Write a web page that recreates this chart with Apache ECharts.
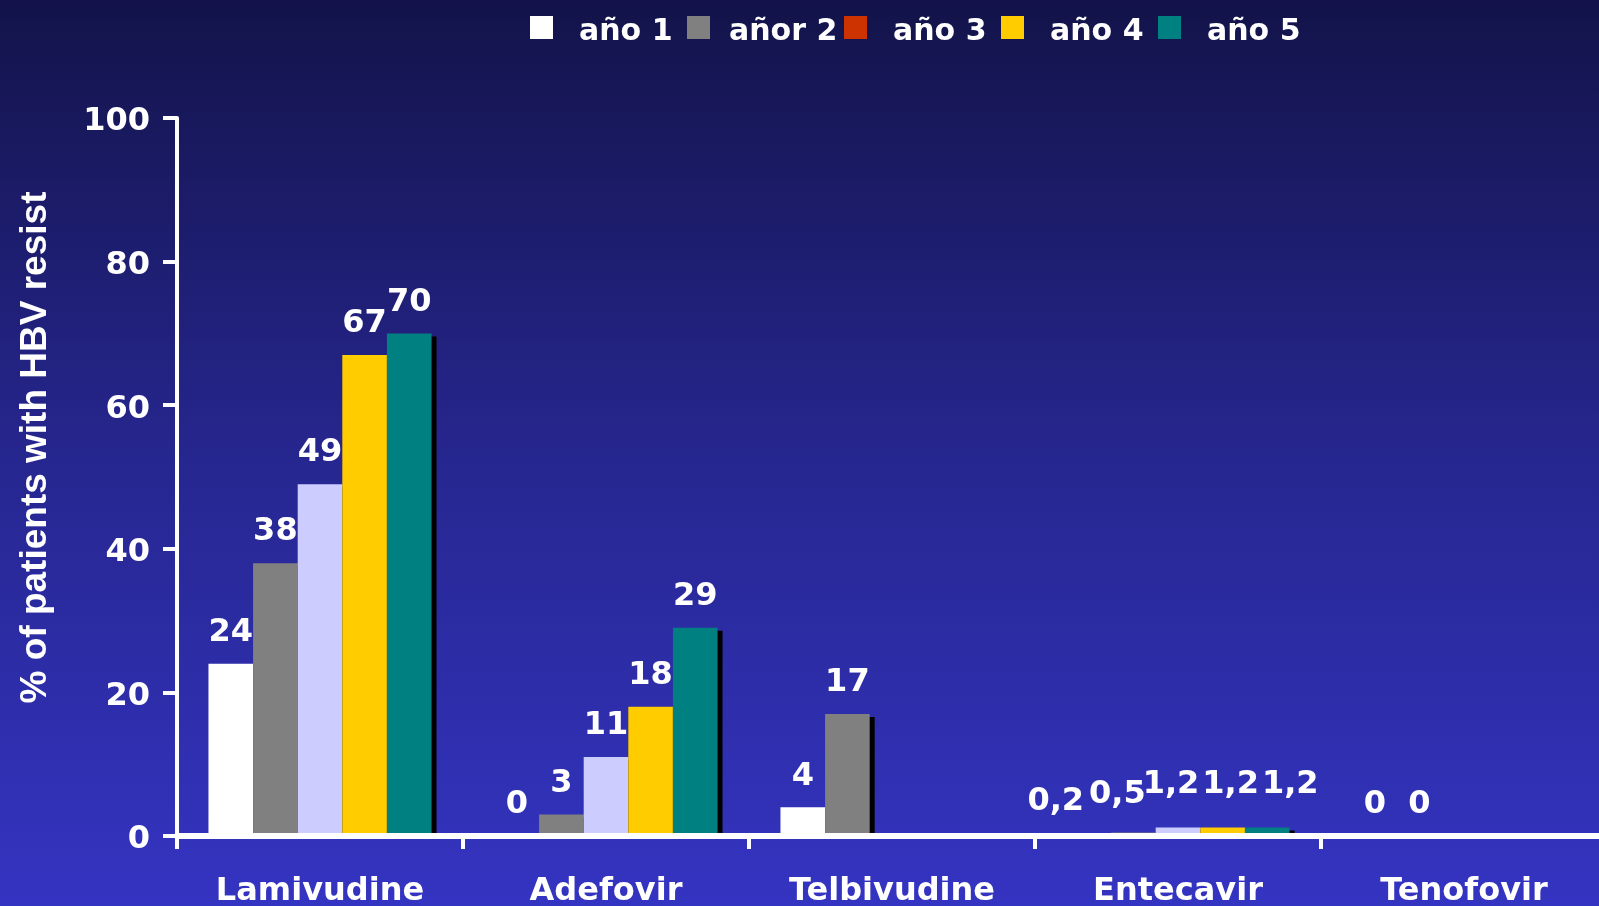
<!DOCTYPE html>
<html>
<head>
<meta charset="utf-8">
<title>HBV resistance by year</title>
<script src="https://cdn.jsdelivr.net/npm/echarts@6/dist/echarts.min.js"></script>
<style>
  html, body { margin: 0; padding: 0; background: #1a1a5c; }
  #chart { width: 1599px; height: 906px; }
</style>
</head>
<body>
<div id="chart"></div>
<script>
// Drugs on the category axis
const categories = ['Lamivudine', 'Adefovir', 'Telbivudine', 'Entecavir', 'Tenofovir'];

// Share of patients with resistance (%), one array per treatment year
const year1 = [24, 0, 4, 0.2, 0];
const year2 = [38, 3, 17, 0.5, 0];
const year3 = [49, 11, null, 1.2, null];
const year4 = [67, 18, null, 1.2, null];
const year5 = [70, 29, null, 1.2, null];

const seriesNames = ['año 1', 'añor 2', 'año 3', 'año 4', 'año 5'];
const yearValues = [year1, year2, year3, year4, year5];

// Value axis range
const yMin = 0, yMax = 100, yStep = 20;

// Bar fills and legend swatches (the third swatch differs from its bars)
const barColors = ['#ffffff', '#808080', '#ccccff', '#ffcc00', '#008080'];
const swatchColors = ['#ffffff', '#808080', '#cc3300', '#ffcc00', '#008080'];

// Small values on Entecavir are crowded: spread their labels apart
const crowdedCategory = 3;
const crowdedLabelShift = [[-33, -2], [-16, -7], [-7, -12], [8, -12], [23, -12]];

// Legend entries sit on a fixed pitch; the longer second name starts a little closer
const legendLeft = 530, legendPitch = 157;
const legendTextIndent = [21, 14, 21, 21, 21];

const tickFont = { fontFamily: 'DejaVu Sans', fontWeight: 'bold', fontSize: 32, color: '#ffffff' };
const legendFont = { fontFamily: 'DejaVu Sans', fontWeight: 'bold', fontSize: 30, color: '#ffffff' };

const series = yearValues.map((vals, s) => ({
  name: seriesNames[s],
  type: 'bar',
  barGap: '0%',
  barCategoryGap: '22%',
  itemStyle: {
    color: barColors[s],
    shadowColor: '#000000',
    shadowBlur: 0,
    shadowOffsetX: 5,
    shadowOffsetY: 3
  },
  label: {
    show: true,
    position: 'top',
    distance: 15,
    ...tickFont,
    formatter: p => String(p.value).replace('.', ',')
  },
  emphasis: { disabled: true },
  data: vals.map((v, c) => {
    if (c === crowdedCategory && v != null) {
      return { value: v, label: { offset: crowdedLabelShift[s] } };
    }
    return v;
  })
}));

// One legend block per series so every swatch lands on the same pitch
const legends = seriesNames.map((n, i) => ({
  top: 16,
  left: legendLeft + i * legendPitch,
  padding: 0,
  itemWidth: 23,
  itemHeight: 23,
  icon: 'rect',
  selectedMode: false,
  itemStyle: { shadowBlur: 0, shadowOffsetX: 0, shadowOffsetY: 0, shadowColor: 'rgba(0,0,0,0)' },
  formatter: '{t|{name}}',
  textStyle: {
    ...legendFont,
    rich: {
      t: { ...legendFont, padding: [10, 0, 0, legendTextIndent[i]] }
    }
  },
  data: [{ name: n, itemStyle: { color: swatchColors[i] } }]
}));

const chart = echarts.init(document.getElementById('chart'), null, { renderer: 'canvas' });

chart.setOption({
  animation: false,
  backgroundColor: {
    type: 'linear', x: 0, y: 0, x2: 0, y2: 1,
    colorStops: [
      { offset: 0, color: '#13134a' },
      { offset: 0.5, color: '#26268f' },
      { offset: 1, color: '#3434c2' }
    ]
  },
  legend: legends,
  grid: {
    left: 177,
    width: 1430,
    top: 118,
    height: 718,
    containLabel: false,
    outerBoundsMode: 'none'
  },
  xAxis: {
    type: 'category',
    data: categories,
    z: 10,
    axisLine: { lineStyle: { color: '#ffffff', width: 6 } },
    axisTick: { show: true, length: 13, lineStyle: { color: '#ffffff', width: 4 } },
    axisLabel: { ...tickFont, margin: 40, interval: 0 },
    splitLine: { show: false }
  },
  yAxis: {
    type: 'value',
    min: yMin,
    max: yMax,
    interval: yStep,
    z: 10,
    name: '% of patients with HBV resistance',
    nameLocation: 'middle',
    nameGap: 123,
    nameTruncate: { maxWidth: 518, ellipsis: '' },
    nameTextStyle: {
      color: '#ffffff',
      fontFamily: 'Liberation Sans',
      fontWeight: 'bold',
      fontSize: 37,
      padding: [0, 0, 0, 59]
    },
    axisLine: { show: true, lineStyle: { color: '#ffffff', width: 4 } },
    axisTick: { show: true, length: 14, lineStyle: { color: '#ffffff', width: 4 } },
    axisLabel: { ...tickFont, margin: 27, verticalAlign: 'top', lineHeight: 8 },
    splitLine: { show: false }
  },
  series: series
});
</script>
</body>
</html>
